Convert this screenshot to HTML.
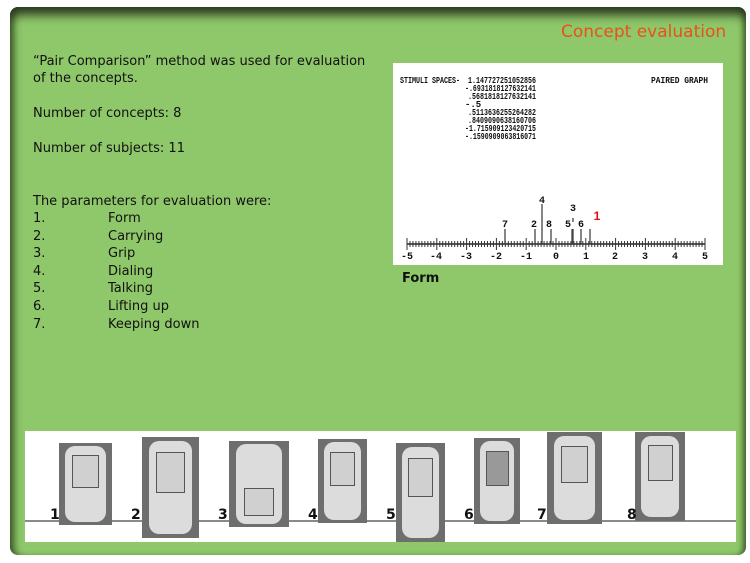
<!DOCTYPE html>
<html><head><style>
body{margin:0;width:750px;height:563px;background:#fff;position:relative;overflow:hidden;font-family:"DejaVu Sans","Liberation Sans",sans-serif;}
.panel{position:absolute;left:10px;top:7px;width:736px;height:548px;background:#8fc86a;border-radius:8px;
box-shadow:inset 0 12px 10px -4px #2d3a22, inset 8px 0 8px -4px #3c5a2a, inset -6px 0 6px -3px #4a6a33;}
.t{position:absolute;font-size:13px;color:#111;white-space:nowrap;line-height:17px;}
.title{position:absolute;left:561px;top:22px;font-size:17px;color:#e8511a;font-family:"DejaVu Sans",sans-serif;}
.img{position:absolute;background:#6e6e6e;}
.img i{position:absolute;left:12%;right:12%;top:4%;bottom:4%;background:#dcdcdc;border-radius:10px;}
.img b{position:absolute;left:25%;right:25%;top:15%;height:38%;border:1px solid #555;background:#d0d0d0;}
.n{position:absolute;font-weight:bold;font-size:14px;color:#111;}
</style></head><body>
<div class="panel"></div>
<div class="title">Concept evaluation</div>
<div class="t" style="left:33px;top:53px">“Pair Comparison” method was used for evaluation</div>
<div class="t" style="left:33px;top:70px">of the concepts.</div>
<div class="t" style="left:33px;top:105px">Number of concepts: 8</div>
<div class="t" style="left:33px;top:140px">Number of subjects: 11</div>
<div class="t" style="left:33px;top:193px">The parameters for evaluation were:</div>
<div class="t" style="left:33px;top:210px">1.</div><div class="t" style="left:108px;top:210px">Form</div>
<div class="t" style="left:33px;top:228px">2.</div><div class="t" style="left:108px;top:228px">Carrying</div>
<div class="t" style="left:33px;top:245px">3.</div><div class="t" style="left:108px;top:245px">Grip</div>
<div class="t" style="left:33px;top:263px">4.</div><div class="t" style="left:108px;top:263px">Dialing</div>
<div class="t" style="left:33px;top:280px">5.</div><div class="t" style="left:108px;top:280px">Talking</div>
<div class="t" style="left:33px;top:298px">6.</div><div class="t" style="left:108px;top:298px">Lifting up</div>
<div class="t" style="left:33px;top:316px">7.</div><div class="t" style="left:108px;top:316px">Keeping down</div>
<div class="t" style="left:402px;top:270px;font-weight:bold">Form</div>

<svg style="position:absolute;left:393px;top:63px" width="330" height="202" viewBox="393 63 330 202">
<rect x="393" y="63" width="330" height="202" fill="#fff"/>
<g font-family="Liberation Mono,monospace" font-size="9" fill="#111" font-weight="bold">
<text x="400" y="83" textLength="60" lengthAdjust="spacingAndGlyphs">STIMULI SPACES-</text>
<text x="468" y="83" textLength="68" lengthAdjust="spacingAndGlyphs">1.147727251052856</text>
<text x="465" y="91" textLength="71" lengthAdjust="spacingAndGlyphs">-.6931818127632141</text>
<text x="468" y="99" textLength="68" lengthAdjust="spacingAndGlyphs">.5681818127632141</text>
<text x="465" y="107">-.5</text>
<text x="468" y="115" textLength="68" lengthAdjust="spacingAndGlyphs">.5113636255264282</text>
<text x="468" y="123" textLength="68" lengthAdjust="spacingAndGlyphs">.8409090638160706</text>
<text x="465" y="131" textLength="71" lengthAdjust="spacingAndGlyphs">-1.715909123420715</text>
<text x="465" y="139" textLength="71" lengthAdjust="spacingAndGlyphs">-.1590909063816071</text>
<text x="651" y="83" textLength="57" lengthAdjust="spacingAndGlyphs">PAIRED GRAPH</text>
</g>
<line x1="407" y1="244" x2="705" y2="244" stroke="#222" stroke-width="1.5"/>
<g id="ticks" stroke="#333" stroke-width="1"></g>
<g font-family="Liberation Mono,monospace" font-size="10" fill="#111" text-anchor="middle" font-weight="bold">
<text x="407" y="259">-5</text><text x="436" y="259">-4</text><text x="466" y="259">-3</text><text x="496" y="259">-2</text><text x="526" y="259">-1</text><text x="556" y="259">0</text><text x="586" y="259">1</text><text x="615" y="259">2</text><text x="645" y="259">3</text><text x="675" y="259">4</text><text x="705" y="259">5</text>
</g>
<g stroke="#444" stroke-width="1.3">
<line x1="505" y1="229" x2="505" y2="244"/><line x1="535" y1="229" x2="535" y2="244"/>
<line x1="542" y1="204" x2="542" y2="244"/><line x1="551" y1="229" x2="551" y2="244"/>
<line x1="572" y1="229" x2="572" y2="244"/><line x1="573" y1="229" x2="573" y2="244"/>
<line x1="573" y1="218" x2="573" y2="222"/>
<line x1="581" y1="229" x2="581" y2="244"/><line x1="590" y1="229" x2="590" y2="244"/>
</g>
<g font-family="Liberation Mono,monospace" font-size="10" fill="#111" text-anchor="middle" font-weight="bold">
<text x="505" y="227">7</text><text x="534" y="227">2</text><text x="549" y="227">8</text><text x="568" y="227">5</text><text x="581" y="227">6</text>
<text x="542" y="203">4</text><text x="573" y="211">3</text>
</g>
<text x="597" y="220" font-family="Liberation Sans,sans-serif" font-size="12" fill="#e01010" font-weight="bold" text-anchor="middle">1</text>
</svg>
<script>
var g=document.getElementById('ticks'),s='';
for(var i=0;i<=100;i++){var x=407+i*2.98;var h=(i%10==0)?6:3;s+='<line x1="'+x+'" y1="'+(244-h)+'" x2="'+x+'" y2="'+(244+h)+'"/>';}
g.innerHTML=s;
</script>

<div style="position:absolute;left:25px;top:431px;width:711px;height:111px;background:#fff"></div>
<div style="position:absolute;left:25px;top:520px;width:711px;height:2px;background:#8a8a8a"></div>
<div class="img" style="left:59px;top:443px;width:53px;height:82px"><i></i><b></b></div>
<div class="img" style="left:142px;top:437px;width:57px;height:101px"><i></i><b></b></div>
<div class="img" style="left:229px;top:441px;width:60px;height:86px"><i></i><b style="top:55%;height:30%"></b></div>
<div class="img" style="left:318px;top:439px;width:49px;height:84px"><i></i><b></b></div>
<div class="img" style="left:396px;top:443px;width:49px;height:99px"><i></i><b></b></div>
<div class="img" style="left:474px;top:438px;width:46px;height:86px"><i></i><b style="background:#999"></b></div>
<div class="img" style="left:547px;top:432px;width:55px;height:92px"><i></i><b></b></div>
<div class="img" style="left:635px;top:432px;width:50px;height:89px"><i></i><b></b></div>
<div class="n" style="left:50px;top:507px">1</div>
<div class="n" style="left:131px;top:507px">2</div>
<div class="n" style="left:218px;top:507px">3</div>
<div class="n" style="left:308px;top:507px">4</div>
<div class="n" style="left:386px;top:507px">5</div>
<div class="n" style="left:464px;top:507px">6</div>
<div class="n" style="left:537px;top:507px">7</div>
<div class="n" style="left:627px;top:507px">8</div>
</body></html>
